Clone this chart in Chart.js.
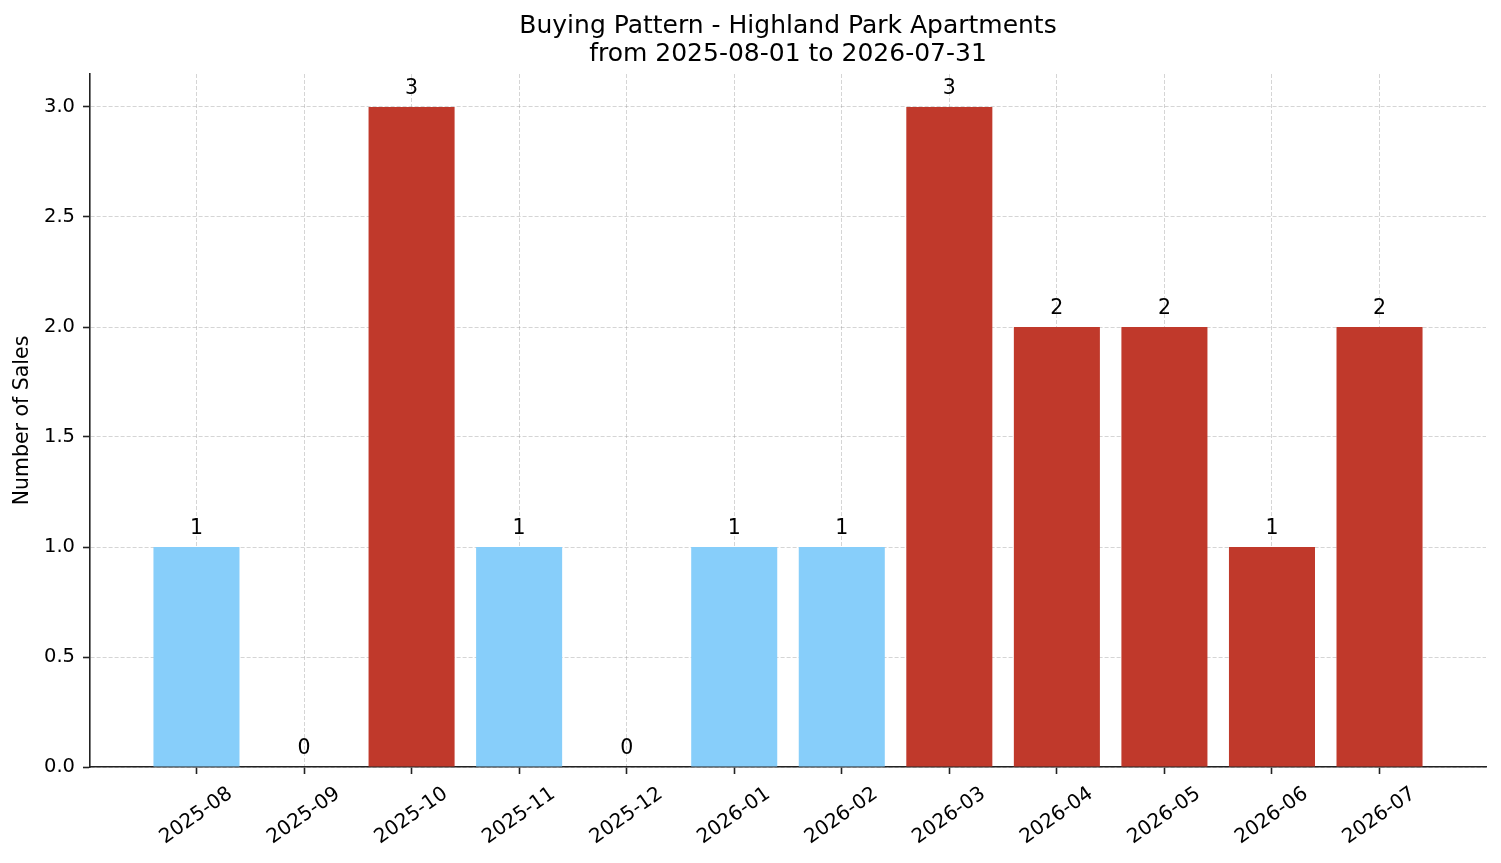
<!DOCTYPE html>
<html>
<head>
<meta charset="utf-8">
<title>Buying Pattern - Highland Park Apartments</title>
<script src="https://cdn.jsdelivr.net/npm/chart.js@4.4.1/dist/chart.umd.min.js"></script>
<style>
    html, body { margin: 0; padding: 0; background: #fff; }
    #chart { display: block; }
</style>
</head>
<body>
<canvas id="chart" width="1501" height="863"></canvas>
<script>
// ── Data ──────────────────────────────────────────────
const months = ['2025-08', '2025-09', '2025-10', '2025-11', '2025-12', '2026-01',
                '2026-02', '2026-03', '2026-04', '2026-05', '2026-06', '2026-07'];
const sales = [1, 0, 3, 1, 0, 1, 1, 3, 2, 2, 1, 2];
const barColors = ['#87CEFA', '#87CEFA', '#C0392B', '#87CEFA', '#87CEFA', '#87CEFA',
                   '#87CEFA', '#C0392B', '#C0392B', '#C0392B', '#C0392B', '#C0392B'];
const yTicks = [0, 0.5, 1.0, 1.5, 2.0, 2.5, 3.0];

const FONT = "'DejaVu Sans', sans-serif";
const INK = '#000';
const SPINE = '#222';
const GRID = 'rgba(150,150,150,0.4)';

Chart.defaults.font.family = FONT;
Chart.defaults.color = INK;

// ── Value labels above bars ───────────────────────────
const barLabels = {
    id: 'barLabels',
    afterDatasetsDraw(chart) {
        const { ctx } = chart;
        const meta = chart.getDatasetMeta(0);
        ctx.save();
        ctx.font = `20.5px ${FONT}`;
        ctx.fillStyle = INK;
        ctx.textAlign = 'center';
        ctx.textBaseline = 'alphabetic';
        meta.data.forEach((bar, i) => {
            ctx.fillText(String(sales[i]), bar.x, bar.y - 13);
        });
        ctx.restore();
    },
};

// shared look for both axes: dashed grid, solid dark spine and tick marks
const gridOpts = {
    color: GRID,
    lineWidth: 1,
    offset: false,
    drawTicks: true,
    tickLength: 7,
    tickColor: SPINE,
    tickWidth: 1.6,
    tickBorderDash: [],
};
const borderOpts = { display: true, color: SPINE, width: 1.6, dash: [4, 2] };

// ── Chart ─────────────────────────────────────────────
new Chart(document.getElementById('chart'), {
    type: 'bar',
    data: {
        datasets: [{
            data: sales.map((v, i) => ({ x: i, y: v })),
            backgroundColor: barColors,
            borderWidth: 0,
            barPercentage: 0.8,
            categoryPercentage: 1.0,
        }],
    },
    options: {
        responsive: false,
        animation: false,
        layout: { padding: { left: 0, right: 15, top: 0, bottom: 0 } },
        plugins: {
            legend: { display: false },
            tooltip: { enabled: false },
            title: {
                display: true,
                text: ['Buying Pattern - Highland Park Apartments', 'from 2025-08-01 to 2026-07-31'],
                fullSize: false,
                color: INK,
                font: { family: FONT, size: 25, weight: 'normal', lineHeight: 1.12 },
                padding: { top: 12, bottom: 6 },
            },
        },
        scales: {
            x: {
                type: 'linear',
                min: -0.99,
                max: 11.99,
                offset: false,
                z: 1,
                afterBuildTicks: s => { s.ticks = months.map((_, i) => ({ value: i })); },
                afterFit: s => { s.height = 96; },
                ticks: {
                    autoSkip: false,
                    minRotation: 35,
                    maxRotation: 35,
                    labelOffset: 34,
                    padding: 8,
                    color: INK,
                    font: { family: FONT, size: 20 },
                    callback: v => months[v] ?? '',
                },
                grid: gridOpts,
                border: borderOpts,
            },
            y: {
                type: 'linear',
                min: 0,
                max: 3.15,
                z: 1,
                afterBuildTicks: s => { s.ticks = yTicks.map(v => ({ value: v })); },
                afterFit: s => { s.width = 90; },
                ticks: {
                    padding: 8,
                    color: INK,
                    font: { family: FONT, size: 19.5 },
                    callback: v => Number(v).toFixed(1),
                },
                grid: gridOpts,
                border: borderOpts,
                title: {
                    display: true,
                    text: 'Number of Sales',
                    color: INK,
                    font: { family: FONT, size: 20.5 },
                    padding: { top: 10, bottom: 0 },
                },
            },
        },
    },
    plugins: [barLabels],
});
</script>
</body>
</html>
